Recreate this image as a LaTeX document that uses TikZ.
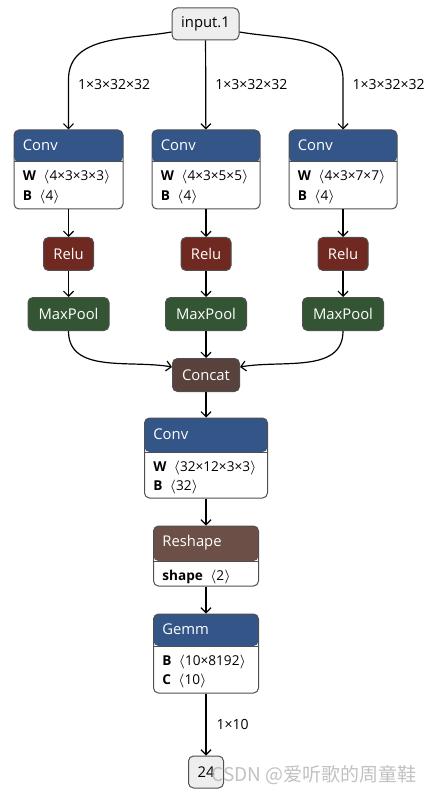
\documentclass[tikz,border=0pt]{standalone}
\usepackage{fontspec}
\setmainfont{Open Sans}
\newfontfamily\cjkfont{Noto Sans CJK SC}
\usepackage{tikz}
\usetikzlibrary{positioning,arrows.meta}

\definecolor{layerblue}{RGB}{51,85,136}
\definecolor{actred}{RGB}{112,41,33}
\definecolor{poolgreen}{RGB}{51,85,51}
\definecolor{tensorbrown}{RGB}{89,66,59}
\definecolor{shapebrown}{RGB}{108,79,71}
\definecolor{framecol}{RGB}{80,80,80}
\definecolor{iofill}{RGB}{238,238,238}

% name, placement, width, height, header height, colour, title, attributes
\newcommand{\opbox}[8]{%
  \node[opframe,minimum width=#3,minimum height=#4,
    path picture={\fill[#6] (path picture bounding box.north west) rectangle ([yshift=-#5]path picture bounding box.north east);
      \draw[framecol,line width=0.5pt] ([yshift=-#5]path picture bounding box.north west) -- ([yshift=-#5]path picture bounding box.north east);},#2] (#1) {};
  \node[optitle,anchor=west] at ([xshift=4.5pt,yshift=-#5/2]#1.north west) {#7};
  \node[attr,anchor=north west] at ([xshift=4.5pt,yshift=-#5-4.3pt]#1.north west) {#8};
}

\begin{document}
\begin{tikzpicture}[x=0.5pt,y=-0.5pt,on grid,node distance=40pt,font=\fontsize{7.4}{8.5}\selectfont,
	opframe/.style={draw=framecol,line width=0.5pt,rounded corners=2.5pt,fill=white,inner sep=0pt},
	optitle/.style={text=white,inner sep=0pt},
	attr/.style={align=left,inner sep=0pt,font=\fontsize{6.8}{9.6}\selectfont},
	op/.style={draw=framecol,line width=0.5pt,rounded corners=2.5pt,text=white,minimum height=16.5pt,inner sep=0pt},
	io/.style={op,fill=iofill,text=black,minimum height=16pt},
	flow/.style={-{Straight Barb[length=2.5pt,width=5pt]},line width=0.6pt},
	lbl/.style={inner sep=0pt,font=\fontsize{7}{8}\selectfont}]
	\useasboundingbox (0,0) rectangle (436,796);
	\node[io,minimum width=33.5pt] (in) at (205.5,24) {input.1};
	\opbox{conva}{at={(68.5,169.5)}}{54.5pt}{39.5pt}{16pt}{layerblue}{Conv}{\textbf{W}\ \ $\langle$4×3×3×3$\rangle$\\\textbf{B}\ \ $\langle$4$\rangle$}
	\opbox{convb}{at={(206,169.5)}}{54pt}{39.5pt}{16pt}{layerblue}{Conv}{\textbf{W}\ \ $\langle$4×3×5×5$\rangle$\\\textbf{B}\ \ $\langle$4$\rangle$}
	\opbox{convc}{at={(343,169.5)}}{54pt}{39.5pt}{16pt}{layerblue}{Conv}{\textbf{W}\ \ $\langle$4×3×7×7$\rangle$\\\textbf{B}\ \ $\langle$4$\rangle$}
	\node[op,fill=actred,minimum width=25pt] (relua) [below=42.25pt of conva] {Relu};
	\node[op,fill=actred,minimum width=25pt] (relub) [below=42.25pt of convb] {Relu};
	\node[op,fill=actred,minimum width=25pt] (reluc) [below=42.25pt of convc] {Relu};
	\node[op,fill=poolgreen,minimum width=40.5pt] (poola) [below=30pt of relua] {MaxPool};
	\node[op,fill=poolgreen,minimum width=40.5pt] (poolb) [below=30pt of relub] {MaxPool};
	\node[op,fill=poolgreen,minimum width=40.5pt] (poolc) [below=30pt of reluc] {MaxPool};
	\node[op,fill=tensorbrown,minimum width=33.5pt] (concat) [below=30.5pt of poolb] {Concat};
	\opbox{convd}{below=41.5pt of concat}{61.5pt}{40pt}{17pt}{layerblue}{Conv}{\textbf{W}\ \ $\langle$32×12×3×3$\rangle$\\\textbf{B}\ \ $\langle$32$\rangle$}
	\opbox{reshape}{below=49pt of convd}{52.5pt}{30pt}{17.5pt}{shapebrown}{Reshape}{\textbf{shape}\ \ $\langle$2$\rangle$}
	\opbox{gemm}{below=48.75pt of reshape}{52.5pt}{39.5pt}{16pt}{layerblue}{Gemm}{\textbf{B}\ \ $\langle$10×8192$\rangle$\\\textbf{C}\ \ $\langle$10$\rangle$}
	\node[io,minimum width=17.5pt] (out) [below=59.25pt of gemm] {24};
	% input fans out to the three convolutions
	\draw[flow] ([yshift=-4pt]in.west) to[out=190,in=90] ([yshift=25pt]conva.north)
		-- node[lbl,pos=0.1,right=4.5pt] {1×3×32×32} (conva.north);
	\draw[flow] (in) -- node[lbl,right=4.5pt] {1×3×32×32} (convb);
	\draw[flow] ([yshift=-4pt]in.east) to[out=-10,in=90] ([yshift=25pt]convc.north)
		-- node[lbl,pos=0.1,right=4.5pt] {1×3×32×32} (convc.north);
	\path[flow]
	(conva) edge (relua)
	(convb) edge (relub)
	(convc) edge (reluc)
	(relua) edge (poola)
	(relub) edge (poolb)
	(reluc) edge (poolc)
	(poolb) edge (concat)
	(concat) edge (convd)
	(convd) edge (reshape)
	(reshape) edge (gemm)
	(gemm) edge node[lbl,right=5pt] {1×10} (out);
	\draw[flow] (poola.south) to[out=-90,in=170] ([yshift=4pt]concat.west);
	\draw[flow] (poolc.south) to[out=-90,in=10] ([yshift=4pt]concat.east);
	\node[anchor=west,inner sep=0pt,text=gray!60,opacity=0.8,font=\cjkfont\fontsize{9.5}{10}\selectfont] (mark) at (211,775) {CSDN @爱听歌的周童鞋};
\end{tikzpicture}
\end{document}
